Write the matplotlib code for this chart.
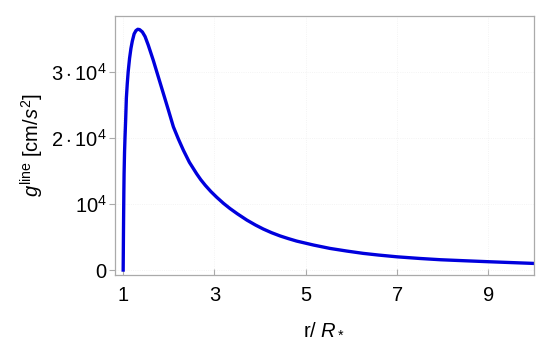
import matplotlib.pyplot as plt

plt.rcParams['font.family'] = ['Liberation Sans', 'DejaVu Sans']
plt.rcParams['mathtext.fontset'] = 'custom'
plt.rcParams['mathtext.rm'] = 'Liberation Sans'
plt.rcParams['mathtext.it'] = 'Liberation Sans:italic'

# Data
r_vals = [1.0, 1.003, 1.006, 1.01, 1.015, 1.02, 1.03, 1.04, 1.055, 1.07, 1.09, 1.11,
          1.14, 1.17, 1.20, 1.24, 1.28, 1.32, 1.36, 1.42, 1.48, 1.55, 1.66, 1.77,
          1.88, 1.99, 2.10, 2.21, 2.32, 2.45, 2.61, 2.70, 2.80, 2.92, 3.05, 3.20,
          3.34, 3.50, 3.71, 3.90, 4.07, 4.25, 4.44, 4.62, 4.80, 5.17, 5.53, 5.90,
          6.26, 6.59, 7.0, 7.5, 7.95, 8.5, 9.0, 9.5, 10.0]
g_vals = [0, 2500, 5200, 8300, 11800, 14500, 17800, 20000, 22800, 26000, 28200, 30000,
          32000, 33500, 34600, 35700, 36200, 36400, 36350, 36000, 35300, 34000, 31700, 29200,
          26700, 24200, 21650, 19800, 18100, 16300, 14550, 13660, 12800, 11880, 11000, 10070,
          9300, 8510, 7550, 6800, 6200, 5650, 5150, 4750, 4380, 3780, 3270, 2870,
          2520, 2270, 2000, 1750, 1560, 1400, 1260, 1130, 1000]

x_ticks = [1, 3, 5, 7, 9]
y_ticks = [0, 10000, 20000, 30000]
y_labels = ['0', r'$10^4$', r'$2\cdot10^4$', r'$3\cdot10^4$']

fig = plt.figure(figsize=(5.5, 3.49), dpi=100)
ax = fig.add_axes([0.209, 0.212, 0.762, 0.742])

ax.plot(r_vals, g_vals, color='#0000dd', lw=2.4, solid_joinstyle='round')

ax.set_xlim(0.82, 10.0)
ax.set_ylim(-750, 38400)
ax.set_xticks(x_ticks)
ax.set_xticklabels([str(t) for t in x_ticks])
ax.set_yticks(y_ticks)
ax.set_yticklabels(y_labels)

ax.grid(True, color='#f0f0f0', linestyle=':', linewidth=0.6)

for s in ax.spines.values():
    s.set_color('#aaaaaa')
    s.set_linewidth(0.9)
ax.tick_params(axis='x', direction='in', length=4, color='#aaaaaa', labelsize=14.5, pad=8)
ax.tick_params(axis='y', direction='out', length=4, color='#aaaaaa', labelsize=14.5, pad=2)

ax.set_xlabel(r'r/ $R_*$', fontsize=14.5, labelpad=10)
ax.set_ylabel(r'$g^{\rm line}$ [cm/$s^2$]', fontsize=14.5, labelpad=4)

plt.savefig('out.png', dpi=100)
